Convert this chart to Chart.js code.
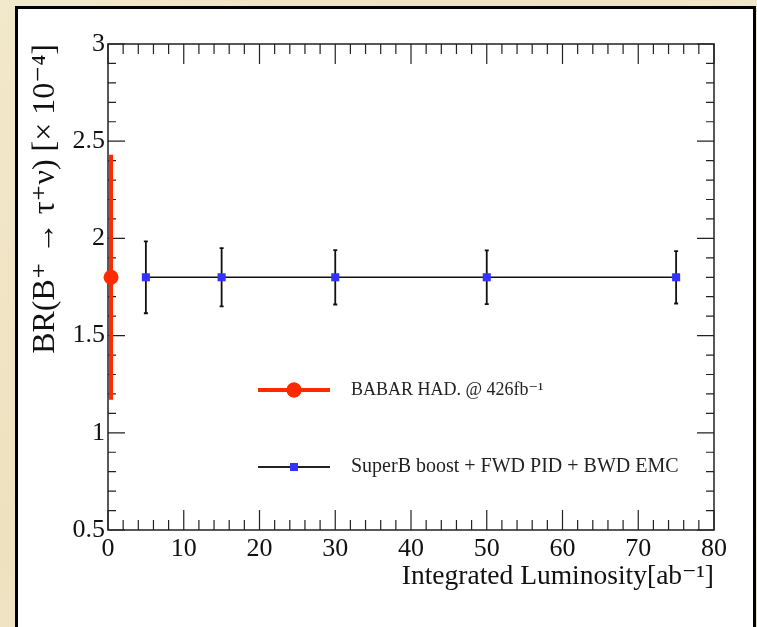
<!DOCTYPE html>
<html>
<head>
<meta charset="utf-8">
<script src="https://cdn.jsdelivr.net/npm/chart.js@4.4.1/dist/chart.umd.min.js"></script>
<style>
  html, body { margin: 0; padding: 0; }
  body {
    width: 757px; height: 627px; overflow: hidden; position: relative;
    background: linear-gradient(135deg, #f2e8cb 0%, #eee1bf 40%, #f4ecd4 70%, #ecdfbc 100%);
  }
  #panel {
    position: absolute; left: 15px; top: 6px; width: 741px; height: 700px;
    box-sizing: border-box; background: #fff; border: 3px solid #000;
  }
  #chart { position: absolute; left: 0; top: 0; }
</style>
</head>
<body>
<div id="panel"></div>
<canvas id="chart" width="757" height="627"></canvas>
<script>
// BABAR hadronic tag measurement
const babarLumi = [0.4];
const babarBR = [1.8];
const babarErr = [0.63];

// SuperB projections
const superbLumi = [5, 15, 30, 50, 75];
const superbBR = [1.8, 1.8, 1.8, 1.8, 1.8];
const superbErr = [0.185, 0.15, 0.14, 0.138, 0.135];

const seriesLabels = ["BABAR HAD. @ 426fb\u207B\u00B9", "SuperB boost + FWD PID + BWD EMC"];
const xTitle = "Integrated Luminosity[ab\u207B\u00B9]";
const yTitle = "BR(B\u207A \u2192 \u03C4\u207A\u03BD) [\u00D7 10\u207B\u2074]";

const serif = "'Liberation Serif', 'DejaVu Serif', serif";
Chart.defaults.font.family = serif;
Chart.defaults.color = "#111";

const toPoints = (xs, ys) => xs.map((v, i) => ({ x: v, y: ys[i] }));

// frame + inner ticks, ROOT style
const frameTicks = {
    id: "frameTicks",
    beforeDatasetsDraw(chart) {
        const { ctx, chartArea: a, scales: { x, y } } = chart;
        ctx.save();
        ctx.strokeStyle = "#222";
        ctx.lineWidth = 1.5;
        ctx.strokeRect(a.left, a.top, a.right - a.left, a.bottom - a.top);
        ctx.lineWidth = 1.2;
        ctx.beginPath();
        const nx = Math.round((x.max - x.min) / 2);
        for (let i = 0; i <= nx; i++) {
            const v = x.min + i * 2;
            const px = x.getPixelForValue(v);
            const len = i % 5 === 0 ? 20 : 10;
            ctx.moveTo(px, a.bottom); ctx.lineTo(px, a.bottom - len);
            ctx.moveTo(px, a.top); ctx.lineTo(px, a.top + len);
        }
        const ny = Math.round((y.max - y.min) / 0.1);
        for (let i = 0; i <= ny; i++) {
            const v = y.min + i * 0.1;
            const py = y.getPixelForValue(v);
            const len = i % 5 === 0 ? 17 : 8;
            ctx.moveTo(a.left, py); ctx.lineTo(a.left + len, py);
            ctx.moveTo(a.right, py); ctx.lineTo(a.right - len, py);
        }
        ctx.stroke();
        ctx.restore();
    },
};

const errorBars = {
    id: "errorBars",
    beforeDatasetsDraw(chart) {
        const { ctx, scales: { x, y } } = chart;
        chart.data.datasets.forEach((ds) => {
            ctx.save();
            ctx.strokeStyle = ds.errColor;
            ctx.lineWidth = ds.errWidth;
            ds.data.forEach((p, i) => {
                const px = x.getPixelForValue(p.x);
                const top = y.getPixelForValue(p.y + ds.errors[i]);
                const bot = y.getPixelForValue(p.y - ds.errors[i]);
                ctx.beginPath();
                ctx.moveTo(px, top);
                ctx.lineTo(px, bot);
                if (ds.errCap) {
                    ctx.moveTo(px - ds.errCap, top); ctx.lineTo(px + ds.errCap, top);
                    ctx.moveTo(px - ds.errCap, bot); ctx.lineTo(px + ds.errCap, bot);
                }
                ctx.stroke();
            });
            ctx.restore();
        });
    },
};

const boxLegend = {
    id: "boxLegend",
    afterDatasetsDraw(chart) {
        const { ctx, chartArea: a } = chart;
        const rows = [346, 423];
        ctx.save();
        chart.data.datasets.forEach((ds, i) => {
            const yy = a.top + rows[i];
            const x0 = a.left + 150, x1 = a.left + 222, xm = (x0 + x1) / 2;
            ctx.strokeStyle = ds.legendLine;
            ctx.lineWidth = ds.legendWidth;
            ctx.beginPath(); ctx.moveTo(x0, yy); ctx.lineTo(x1, yy); ctx.stroke();
            Chart.helpers.drawPoint(ctx, {
                pointStyle: ds.pointStyle, radius: ds.pointRadius, borderWidth: 0,
            }, xm, yy);
            ctx.fillStyle = ds.pointBackgroundColor;
            ctx.fill();
            ctx.fillStyle = "#222";
            ctx.font = (i === 0 ? "18px " : "20px ") + serif;
            ctx.textBaseline = "middle";
            ctx.fillText(ds.label, a.left + 243, yy);
        });
        ctx.restore();
    },
};

new Chart(document.getElementById("chart"), {
    type: "scatter",
    data: {
        datasets: [
            {
                label: seriesLabels[0],
                data: toPoints(babarLumi, babarBR),
                errors: babarErr,
                errColor: "#ff2a00",
                errWidth: 4,
                errCap: 0,
                legendLine: "#ff2a00",
                legendWidth: 4,
                pointStyle: "circle",
                pointRadius: 7.5,
                pointBackgroundColor: "#ff2a00",
                pointBorderWidth: 0,
                clip: false,
            },
            {
                label: seriesLabels[1],
                data: toPoints(superbLumi, superbBR),
                errors: superbErr,
                errColor: "#111",
                errWidth: 1.8,
                errCap: 2,
                legendLine: "#222",
                legendWidth: 2,
                showLine: true,
                borderColor: "#111",
                borderWidth: 1.6,
                pointStyle: "rect",
                pointRadius: 5.7,
                pointBackgroundColor: "#3333ff",
                pointBorderWidth: 0,
                clip: false,
            },
        ],
    },
    options: {
        responsive: false,
        animation: false,
        devicePixelRatio: 1,
        layout: { padding: { top: 44, right: 43, left: 0, bottom: 0 } },
        plugins: { legend: { display: false }, tooltip: { enabled: false } },
        scales: {
            x: {
                type: "linear",
                min: 0,
                max: 80,
                grid: { display: false, drawTicks: false },
                border: { display: false },
                ticks: { stepSize: 10, padding: 4, font: { size: 26 }, color: "#111", maxRotation: 0 },
                title: {
                    display: true, text: xTitle, align: "end",
                    font: { size: 27.5 }, color: "#111", padding: { top: 0, bottom: 34 },
                },
                afterFit(scale) { scale.height = 97; },
            },
            y: {
                type: "linear",
                min: 0.5,
                max: 3,
                grid: { display: false, drawTicks: false },
                border: { display: false },
                ticks: {
                    stepSize: 0.5, padding: 3, font: { size: 26 }, color: "#111",
                    callback: (v) => String(v),
                },
                title: {
                    display: true, text: yTitle, align: "end",
                    font: { size: 32 }, color: "#111", padding: { top: 26, bottom: 0 },
                },
                afterFit(scale) { scale.width = 108; },
            },
        },
    },
    plugins: [frameTicks, errorBars, boxLegend],
});
</script>
</body>
</html>
